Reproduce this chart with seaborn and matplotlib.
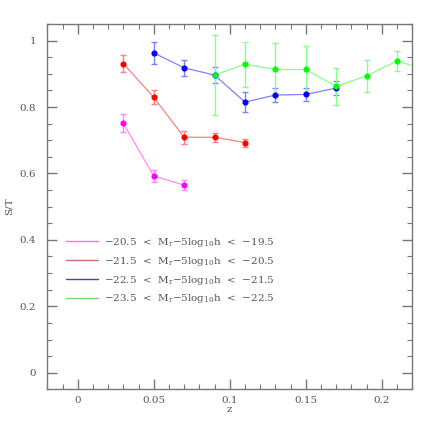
import numpy as np
import pandas as pd
import seaborn as sns
import matplotlib.pyplot as plt
from matplotlib.ticker import MultipleLocator

# S/T vs redshift for four luminosity bins
z_m = [0.03, 0.05, 0.07]
st_m = [0.751, 0.592, 0.565]
err_m = [0.027, 0.017, 0.014]

z_r = [0.03, 0.05, 0.07, 0.09, 0.11]
st_r = [0.931, 0.829, 0.709, 0.709, 0.693]
err_r = [0.026, 0.021, 0.019, 0.013, 0.012]

z_b = [0.05, 0.07, 0.09, 0.11, 0.13, 0.15, 0.17]
st_b = [0.963, 0.918, 0.896, 0.815, 0.836, 0.838, 0.857]
err_b = [0.034, 0.025, 0.025, 0.031, 0.022, 0.020, 0.020]

z_g = [0.09, 0.11, 0.13, 0.15, 0.17, 0.19, 0.21, 0.23]
st_g = [0.896, 0.929, 0.913, 0.913, 0.862, 0.894, 0.939, 0.910]
err_g = [0.120, 0.068, 0.081, 0.071, 0.055, 0.048, 0.030, 0.030]

labels = [
    r"$-$20.5  <  M$_\mathrm{r}$$-$5log$_{10}$h  <  $-$19.5",
    r"$-$21.5  <  M$_\mathrm{r}$$-$5log$_{10}$h  <  $-$20.5",
    r"$-$22.5  <  M$_\mathrm{r}$$-$5log$_{10}$h  <  $-$21.5",
    r"$-$23.5  <  M$_\mathrm{r}$$-$5log$_{10}$h  <  $-$22.5",
]

series = [(z_m, st_m, err_m), (z_r, st_r, err_r), (z_b, st_b, err_b), (z_g, st_g, err_g)]
line_cols = ["#ff88ff", "#ff8080", "#8080ff", "#88ff88"]
mark_cols = ["#ff00ff", "#ff0000", "#0000ff", "#00ff00"]
leg_cols = ["#ee77ee", "#d07070", "#4444aa", "#77dd77"]

frames = []
for lab, (z, st, err) in zip(labels, series):
    frames.append(pd.DataFrame({"z": z, "st": st, "err": err, "bin": lab}))
df = pd.concat(frames, ignore_index=True)

sns.set_style("ticks")
plt.rcParams["font.family"] = ["DejaVu Serif"]
plt.rcParams["mathtext.fontset"] = "dejavuserif"
plt.rcParams["font.size"] = 7.5
txt = "#555555"

fig = plt.figure(figsize=(4.36, 4.36), dpi=100)
ax = fig.add_axes([0.1085, 0.107, 0.837, 0.838])

for i, lab in enumerate(labels):
    d = df[df["bin"] == lab]
    ax.errorbar(d["z"], d["st"], yerr=d["err"], fmt="none", ecolor=line_cols[i],
                elinewidth=1, capsize=2.5, capthick=1, zorder=2)
    sns.lineplot(data=d, x="z", y="st", color=line_cols[i], lw=0.9, ax=ax,
                 zorder=3, legend=False)
    ax.plot(d["z"], d["st"], ls="none", marker="o", ms=3.4, color=mark_cols[i],
            mec=mark_cols[i], zorder=4)

handles = [plt.Line2D([], [], color=c, lw=1) for c in leg_cols]
leg = ax.legend(handles, labels, loc="upper left", bbox_to_anchor=(0.025, 0.445),
                frameon=False, handlelength=3.1, handletextpad=0.6,
                labelspacing=0.55, fontsize=7.5, labelcolor=txt)

ax.set_xlim(-0.02, 0.22)
ax.set_ylim(-0.05, 1.05)
ax.xaxis.set_major_locator(MultipleLocator(0.05))
ax.xaxis.set_minor_locator(MultipleLocator(0.01))
ax.yaxis.set_major_locator(MultipleLocator(0.2))
ax.yaxis.set_minor_locator(MultipleLocator(0.05))
ax.xaxis.set_major_formatter(plt.FuncFormatter(lambda v, p: f"{v:g}"))
ax.yaxis.set_major_formatter(plt.FuncFormatter(lambda v, p: f"{v:g}"))
ax.tick_params(which="both", direction="in", top=True, right=True,
               color="#777777", colors=txt, labelsize=7.5)
ax.tick_params(which="major", length=7, width=1)
ax.tick_params(axis="y", which="major", pad=8)
ax.tick_params(axis="x", which="major", pad=5)
ax.tick_params(which="minor", length=3.5, width=0.8)
for s in ax.spines.values():
    s.set_color("#777777")
    s.set_linewidth(1)

ax.set_xlabel("z", color=txt, labelpad=0)
ax.set_ylabel("S/T", color=txt)
ax.yaxis.set_label_coords(-0.092, 0.5)

fig.savefig("out.png", dpi=100)
